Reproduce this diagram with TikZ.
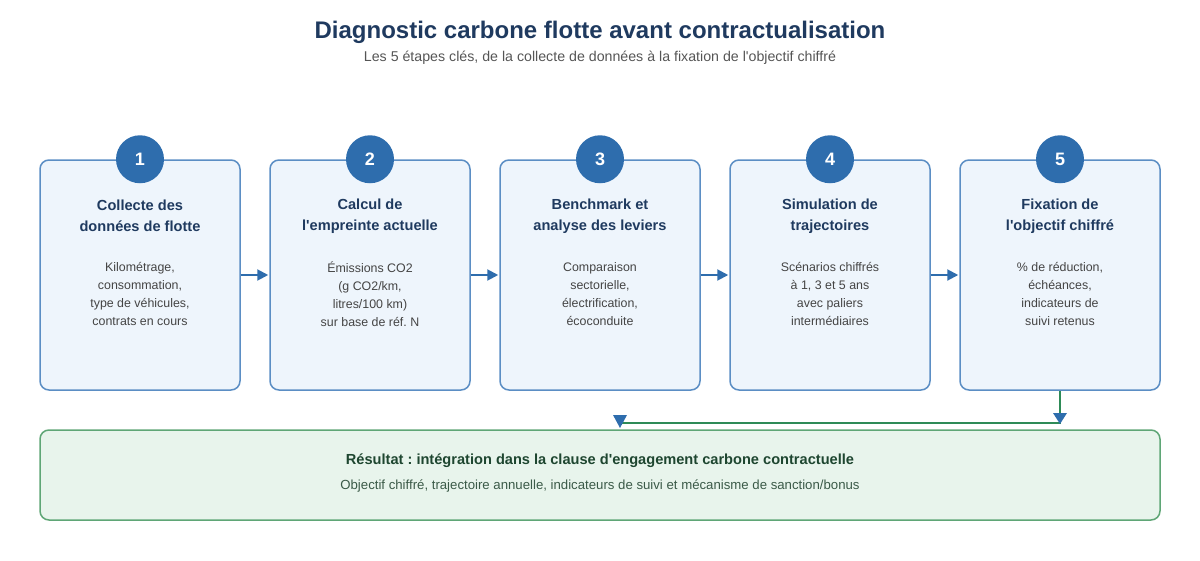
\documentclass[tikz,border=0pt]{standalone}
\usepackage{fontspec}
\setmainfont{Liberation Sans}
\usepackage{tikz}
\usetikzlibrary{arrows.meta}
\frenchspacing
\definecolor{titlenavy}{HTML}{1F3A5F}
\definecolor{subgray}{HTML}{555555}
\definecolor{bodygray}{HTML}{444444}
\definecolor{stepblue}{HTML}{2E6DAD}
\definecolor{stepborder}{HTML}{5B8EC4}
\definecolor{stepfill}{HTML}{EEF5FC}
\definecolor{resfill}{HTML}{E8F4EC}
\definecolor{resborder}{HTML}{5FA676}
\definecolor{resgreen}{HTML}{2E8B57}
\definecolor{restext}{HTML}{1E4630}
\definecolor{resbody}{HTML}{3B5A48}

\begin{document}
\begin{tikzpicture}[x=1pt,y=-1pt,
  stepbox/.style={draw=stepborder,fill=stepfill,line width=1.5pt,rounded corners=9pt,minimum width=200pt,minimum height=230pt,inner sep=0pt},
  stepnum/.style={circle,fill=stepblue,text=white,minimum size=48pt,inner sep=0pt,font=\fontsize{18}{20}\selectfont\bfseries},
  steptitle/.style={align=center,text=titlenavy,font=\fontsize{14.6}{20.5}\selectfont\bfseries},
  steptext/.style={align=center,text=bodygray,font=\fontsize{12.4}{18}\selectfont},
  flow/.style={draw=stepblue,line width=2pt,-{Triangle[width=11pt,length=11pt]},shorten >=1pt}]
\useasboundingbox (0,0) rectangle (1200,560);
% heading
\node (title) at (600,32) {\fontsize{24}{28}\selectfont\bfseries\color{titlenavy}Diagnostic carbone flotte avant contractualisation};
\node (sub) at (600,58) {\fontsize{14.2}{17}\selectfont\color{subgray}Les 5 étapes clés, de la collecte de données à la fixation de l\textquotesingle objectif chiffré};
% steps
\node[stepbox] (s1) at (140,275) {};
\node[stepbox] (s2) at (370,275) {};
\node[stepbox] (s3) at (600,275) {};
\node[stepbox] (s4) at (830,275) {};
\node[stepbox] (s5) at (1060,275) {};
\node[stepnum] (n1) at (s1.north) {1};
\node[stepnum] (n2) at (s2.north) {2};
\node[stepnum] (n3) at (s3.north) {3};
\node[stepnum] (n4) at (s4.north) {4};
\node[stepnum] (n5) at (s5.north) {5};
\node[steptitle] (t1) at (140,216) {Collecte des\\données de flotte};
\node[steptitle] (t2) at (370,216) {Calcul de\\l\textquotesingle empreinte actuelle};
\node[steptitle] (t3) at (600,216) {Benchmark et\\analyse des leviers};
\node[steptitle] (t4) at (830,216) {Simulation de\\trajectoires};
\node[steptitle] (t5) at (1060,216) {Fixation de\\l\textquotesingle objectif chiffré};
\node[steptext] (b1) at (140,294) {Kilométrage,\\consommation,\\type de véhicules,\\contrats en cours};
\node[steptext] (b2) at (370,294) {Émissions CO2\\(g CO2/km,\\litres/100 km)\\sur base de réf. N};
\node[steptext] (b3) at (600,294) {Comparaison\\sectorielle,\\électrification,\\écoconduite};
\node[steptext] (b4) at (830,294) {Scénarios chiffrés\\à 1, 3 et 5 ans\\avec paliers\\intermédiaires};
\node[steptext] (b5) at (1060,294) {\% de réduction,\\échéances,\\indicateurs de\\suivi retenus};
\draw[flow] (s1.east) -- (s2.west);
\draw[flow] (s2.east) -- (s3.west);
\draw[flow] (s3.east) -- (s4.west);
\draw[flow] (s4.east) -- (s5.west);
% result
\node[draw=resborder,fill=resfill,line width=1.5pt,rounded corners=9pt,minimum width=1120pt,minimum height=90pt] (res) at (600,475) {};
\node[text=restext,font=\fontsize{14.6}{16}\selectfont\bfseries] (rt) at (600,461) {Résultat : intégration dans la clause d\textquotesingle engagement carbone contractuelle};
\node[text=resbody,font=\fontsize{13.2}{15}\selectfont] (rb) at (600,486) {Objectif chiffré, trajectoire annuelle, indicateurs de suivi et mécanisme de sanction/bonus};
\coordinate (c5) at (1060,423);
\coordinate (cl) at (620,423);
\draw[resgreen,line width=2pt] (s5.south) -- (c5) -- (cl);
\fill[stepblue] ([xshift=-7pt,yshift=10pt]c5) -- ([xshift=7pt,yshift=10pt]c5) -- ([yshift=-1pt]c5) -- cycle;
\fill[stepblue] ([xshift=-7pt,yshift=8pt]cl) -- ([xshift=7pt,yshift=8pt]cl) -- ([yshift=-5pt]cl) -- cycle;
\end{tikzpicture}
\end{document}
